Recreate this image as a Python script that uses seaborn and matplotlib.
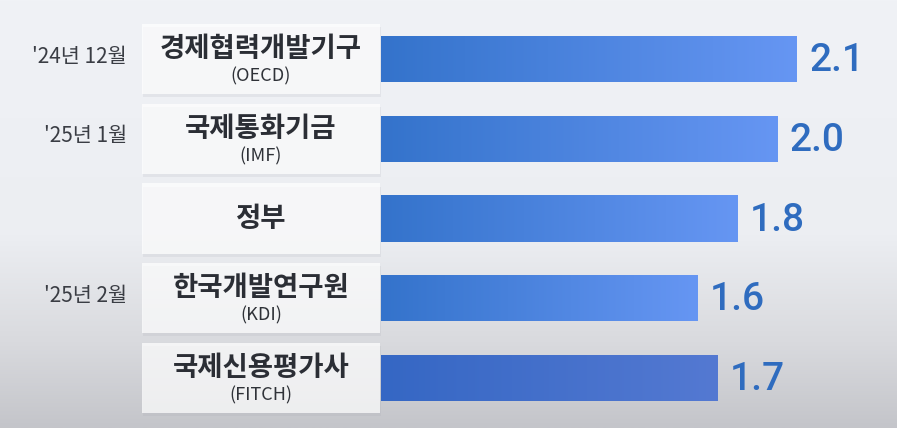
import numpy as np
import pandas as pd
import matplotlib
matplotlib.use("Agg")
import matplotlib.pyplot as plt
from matplotlib.colors import LinearSegmentedColormap
from matplotlib.patches import Rectangle
import seaborn as sns

# data
names = ["경제협력개발기구", "국제통화기금", "정부", "한국개발연구원", "국제신용평가사"]
abbrevs = ["(OECD)", "(IMF)", "", "(KDI)", "(FITCH)"]
dates = ["'24년 12월", "'25년 1월", "", "'25년 2월", ""]
growth = [2.1, 2.0, 1.8, 1.6, 1.7]

sns.set_style("white")
plt.rcParams["font.family"] = ["Noto Sans CJK KR", "DejaVu Sans"]

df = pd.DataFrame({"name": names, "growth": growth})

fig = plt.figure(figsize=(8.97, 4.28), dpi=100)
ax = fig.add_axes([0, 0, 1, 1])

sns.barplot(data=df, x="growth", y="name", orient="h", width=0.58,
            color="#4a82dc", linewidth=0, ax=ax, zorder=3)

# 198 px per unit, zero at x=381 px; rows every ~80 px
ax.set_xlim(-1.924, 2.606)
ax.set_ylim(4.627, -0.74)
ax.axis("off")

# background: light on top, grayer toward the bottom
bg = LinearSegmentedColormap.from_list(
    "bg", [(0, "#f0f2f6"), (0.55, "#eceef2"), (0.8, "#d9dade"), (1, "#c4c5ca")])
grad = np.linspace(0, 1, 256).reshape(-1, 1)
ax.imshow(grad, cmap=bg, aspect="auto", extent=(-1.924, 2.606, 4.627, -0.74),
          zorder=0)

# gradient fill in the bars
bar_cmap = LinearSegmentedColormap.from_list("bar", ["#3473cb", "#6696f3"])
last_cmap = LinearSegmentedColormap.from_list("bar2", ["#3567c4", "#5479d2"])
hgrad = np.linspace(0, 1, 256).reshape(1, -1)
for i, p in enumerate(ax.patches):
    x0, y0 = p.get_x(), p.get_y()
    w, h = p.get_width(), p.get_height()
    cm = last_cmap if i == len(ax.patches) - 1 else bar_cmap
    im = ax.imshow(hgrad, cmap=cm, aspect="auto",
                   extent=(x0, x0 + w, y0 + h, y0), zorder=4)
    im.set_clip_path(p)
    ax.text(x0 + w + 0.062, y0 + h / 2 + 0.02, f"{growth[i]:.1f}", ha="left",
            va="center", fontsize=28, fontweight="medium", color="#2f6cbf",
            family=["Roboto", "DejaVu Sans"], zorder=5)

# label boxes
box_x0, box_x1 = -1.207, -0.005
for i in range(len(names)):
    ax.add_patch(Rectangle((box_x0 + 0.005, i - 0.40), box_x1 - box_x0, 0.878,
                           facecolor="#a0a4ac", alpha=0.15, lw=0, zorder=1))
    ax.add_patch(Rectangle((box_x0, i - 0.439), box_x1 - box_x0, 0.878,
                           facecolor="#ffffff", alpha=0.72, lw=0, zorder=2))
    cx = (box_x0 + box_x1) / 2
    if abbrevs[i]:
        ax.text(cx, i - 0.125, names[i], ha="center", va="center",
                fontsize=19.8, fontweight="bold", color="#2b2e35", zorder=5)
        ax.text(cx, i + 0.215, abbrevs[i], ha="center", va="center",
                fontsize=13, color="#2f3238", zorder=5)
    else:
        ax.text(cx, i, names[i], ha="center", va="center",
                fontsize=19.8, fontweight="bold", color="#2b2e35", zorder=5)
    if dates[i]:
        ax.text(-1.283, i - 0.03, dates[i], ha="right", va="center",
                fontsize=15, color="#3a3d44", zorder=5)

fig.savefig("out.png", dpi=100)
